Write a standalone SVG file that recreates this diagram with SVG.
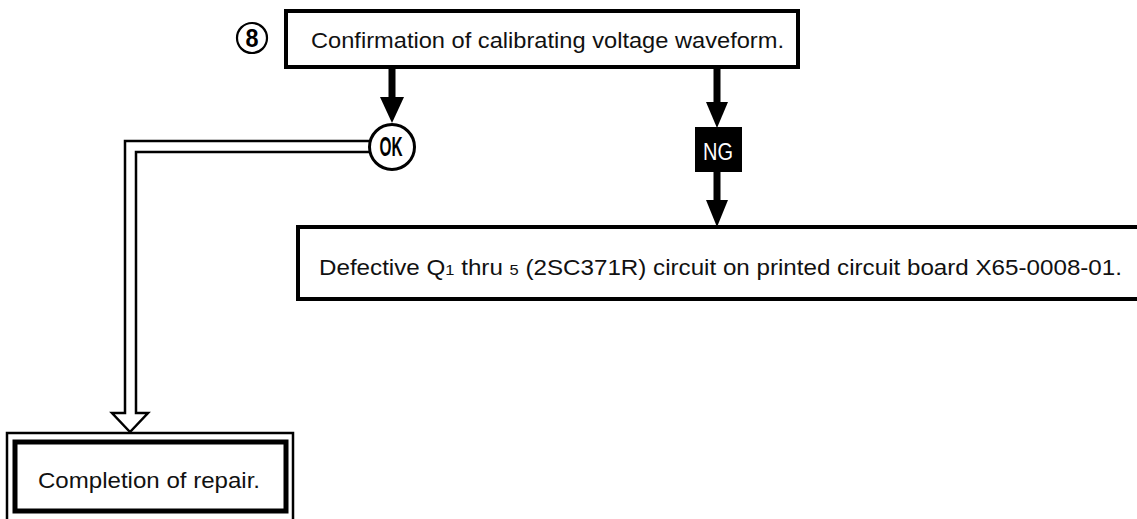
<svg xmlns="http://www.w3.org/2000/svg" width="1137" height="519" viewBox="0 0 1137 519">
<style>
.box{fill:#fff;stroke:#000;stroke-width:4}
.txt{font-family:"Liberation Sans",Arial,sans-serif;font-size:22px;fill:#111}
.lbl{font-family:"Liberation Sans",Arial,sans-serif;font-weight:bold;fill:#000}
.shaft{stroke:#000;stroke-width:7;fill:none}
.head{fill:#000}
.dbl{fill:none;stroke:#000;stroke-width:2.5;stroke-linejoin:miter}
</style>
<rect width="1137" height="519" fill="#fff"/>
<g id="connectors">
  <line class="shaft" x1="392" y1="67" x2="392" y2="100"/>
  <polygon class="head" points="380,97 404,97 392,123"/>
  <line class="shaft" x1="717" y1="67" x2="717" y2="105"/>
  <polygon class="head" points="706,102 728,102 717,128"/>
  <line class="shaft" x1="717" y1="170" x2="717" y2="203"/>
  <polygon class="head" points="706,200 728,200 717,227"/>
  <polyline class="dbl" points="370,141 125,141 125,413 112,413 130,432 148,413 136,413 136,152 370,152"/>
</g>
<g id="step8">
  <circle cx="252" cy="38" r="15" fill="#fff" stroke="#000" stroke-width="2.2"/>
  <text class="lbl" x="252" y="47" font-size="25" text-anchor="middle" textLength="13" lengthAdjust="spacingAndGlyphs">8</text>
</g>
<g id="confirm">
  <rect class="box" x="286" y="11" width="512" height="56"/>
  <text class="txt" x="311" y="48" font-size="21" textLength="473" lengthAdjust="spacingAndGlyphs">Confirmation of calibrating voltage waveform.</text>
</g>
<g id="ok">
  <circle cx="392" cy="147" r="22.5" fill="#fff" stroke="#000" stroke-width="3"/>
  <text class="lbl" x="391" y="156" font-size="27" text-anchor="middle" textLength="23" lengthAdjust="spacingAndGlyphs">OK</text>
</g>
<g id="ng">
  <rect x="695" y="127" width="47" height="45" fill="#000"/>
  <text x="718" y="160" font-family="Liberation Sans,Arial,sans-serif" font-size="23" fill="#fff" text-anchor="middle" textLength="30" lengthAdjust="spacingAndGlyphs">NG</text>
</g>
<g id="defective">
  <rect class="box" x="298" y="227" width="860" height="72"/>
  <text class="txt" x="319" y="275" textLength="803" lengthAdjust="spacingAndGlyphs">Defective Q<tspan font-size="15">1</tspan> thru <tspan font-size="15">5</tspan> (2SC371R) circuit on printed circuit board X65-0008-01.</text>
</g>
<g id="completion">
  <rect x="7" y="433" width="286" height="100" fill="#fff" stroke="#000" stroke-width="2.5"/>
  <rect x="15" y="442" width="271" height="69" fill="#fff" stroke="#000" stroke-width="5"/>
  <text class="txt" x="38" y="488" textLength="222" lengthAdjust="spacingAndGlyphs">Completion of repair.</text>
</g>
</svg>
